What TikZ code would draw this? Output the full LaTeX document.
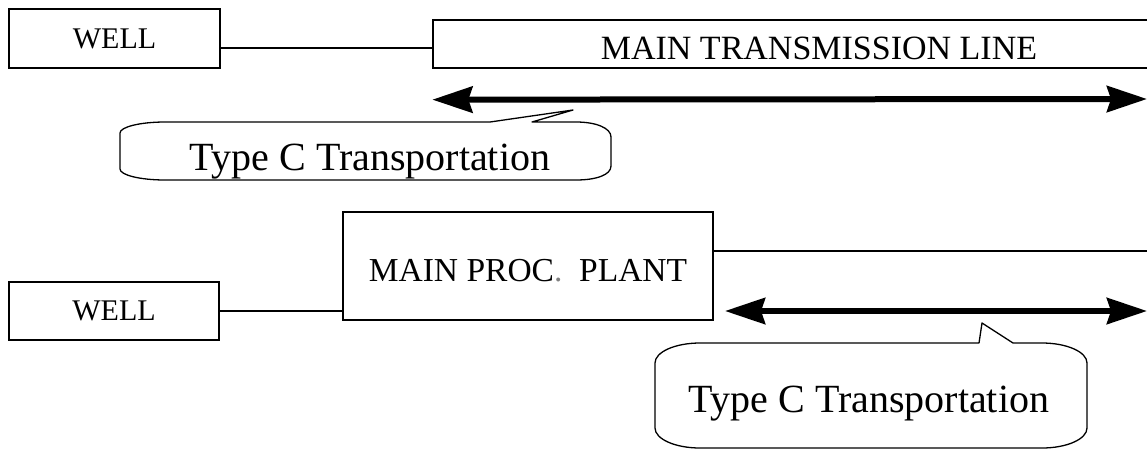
\documentclass[tikz,border=0pt]{standalone}
\usepackage{fontspec}
\setmainfont{Liberation Serif}
\usepackage{xcolor}
\usetikzlibrary{positioning,arrows.meta}

\tikzset{
  unitbox/.style={draw, line width=1.3pt, inner sep=0pt, align=center},
  pipe/.style={line width=1.3pt},
  flow/.style={line width=6pt,
    {Stealth[length=40pt,width=26pt,inset=4pt]}-{Stealth[length=40pt,width=26pt,inset=4pt]}},
  bubble/.style={line width=1.3pt, line join=round},
  calltext/.style={anchor=base, inner sep=0pt, font=\fontsize{40}{48}\selectfont},
}

\begin{document}
\begin{tikzpicture}[x=1pt, y=-1pt]
  \useasboundingbox (0,0) rectangle (1147,450);

  % upper chain: well feeding the transmission line
  \node[unitbox, minimum width=211pt, minimum height=59pt, font=\fontsize{30}{36}\selectfont]
    (wellA) at (114.5,38.5) {WELL};
  \node[unitbox, minimum width=772pt, minimum height=48pt, text height=31pt,
    font=\fontsize{34}{40}\selectfont] (trans) at (819,44) {MAIN TRANSMISSION LINE};
  \coordinate (tapA) at ([yshift=-9.5pt]wellA.east);
  \draw[pipe] (tapA) -- (tapA -| trans.west);

  \coordinate (flowAL) at ([yshift=-31pt]trans.south west);
  \coordinate (flowAR) at (1147,99);
  \draw[flow] (flowAL) -- (flowAR);

  % callout under the upper arrow
  \draw[bubble] (120,133) .. controls (120,127) and (140,122) .. (165,122)
    -- (490,122) -- (573,110) -- (532,122) -- (576,122)
    .. controls (596,122) and (611,128) .. (611,137) -- (611,166)
    .. controls (611,175) and (596,180) .. (576,180) -- (165,180)
    .. controls (140,180) and (120,175) .. (120,169) -- cycle;
  \node[calltext] (noteA) at (370,170) {Type C Transportation};

  % lower chain: well, processing plant, outgoing line
  \node[unitbox, minimum width=210pt, minimum height=58pt, font=\fontsize{30}{36}\selectfont]
    (wellB) at (114,311) {WELL};
  \node[unitbox, minimum width=370pt, minimum height=108pt, text height=31pt,
    font=\fontsize{33.5}{40}\selectfont] (plant) at (528,266)
    {MAIN PROC{\color{gray}.}\ \ PLANT};
  \draw[pipe] (wellB.east) -- (wellB.east -| plant.west);
  \coordinate (tapB) at ([yshift=15pt]plant.east);
  \coordinate (lineEnd) at (1150,251);
  \draw[pipe] (tapB) -- (lineEnd);

  \coordinate (flowBL) at (725,311);
  \coordinate (flowBR) at (1147,311);
  \draw[flow] (flowBL) -- (flowBR);

  % callout under the lower arrow
  \draw[bubble] (655,363) .. controls (655,352) and (675,343) .. (700,343)
    -- (979,343) -- (982,323) -- (1013,343) -- (1042,343)
    .. controls (1067,343) and (1087,352) .. (1087,363) -- (1087,428)
    .. controls (1087,439) and (1067,448) .. (1042,448) -- (700,448)
    .. controls (675,448) and (655,439) .. (655,428) -- cycle;
  \node[calltext] (noteB) at (869,412) {Type C Transportation};
\end{tikzpicture}
\end{document}
